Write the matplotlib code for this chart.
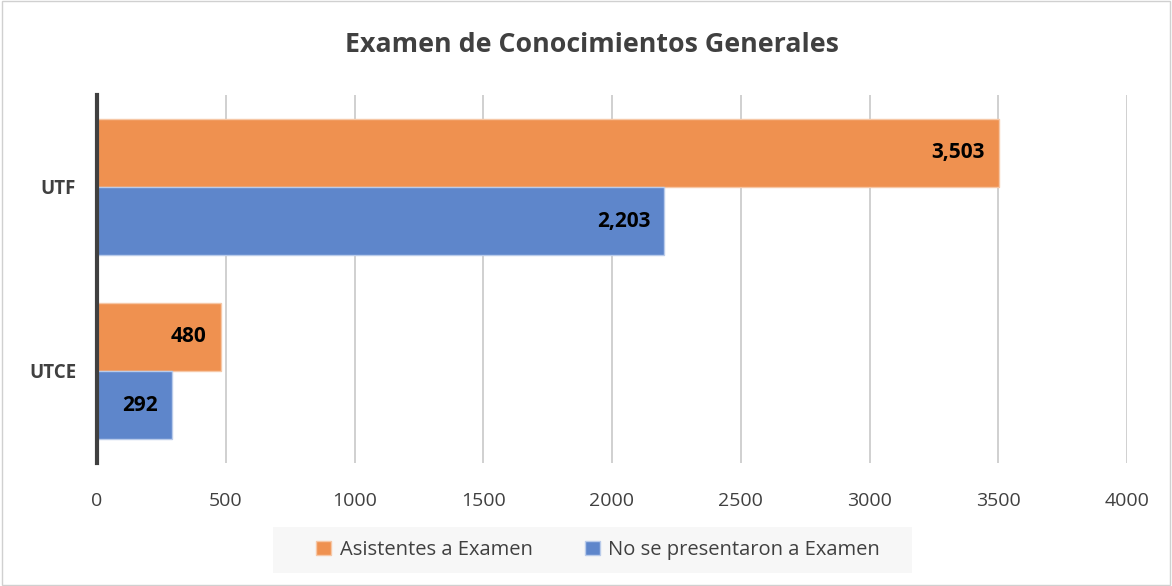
import numpy as np
import matplotlib.pyplot as plt
from matplotlib.patches import Rectangle

plt.rcParams['font.family'] = ['Open Sans', 'DejaVu Sans']

# datos
categorias = ['UTCE', 'UTF']
asistentes = [480, 3503]
no_presentaron = [292, 2203]
series = ['Asistentes a Examen', 'No se presentaron a Examen']
colores = ['#EF9150', '#5E86CB']

fig = plt.figure(figsize=(11.72, 5.86), dpi=100)
ax = fig.add_axes([97 / 1172, 1 - 463 / 586, 1030 / 1172, 368 / 586])

y = np.arange(len(categorias))
h = 0.37
b1 = ax.barh(y + h / 2, asistentes, height=h, color=colores[0],
             edgecolor='#F6C7A6', linewidth=1, label=series[0], zorder=3)
b2 = ax.barh(y - h / 2, no_presentaron, height=h, color=colores[1],
             edgecolor='#B9CBEA', linewidth=1, label=series[1], zorder=3)

for bars in (b1, b2):
    for r in bars:
        w = r.get_width()
        ax.text(w - 55, r.get_y() + r.get_height() / 2, f'{w:,.0f}',
                ha='right', va='center', fontsize=15, fontweight='bold',
                color='black', zorder=4)

ax.set_xlim(0, 4000)
ax.set_ylim(-0.5, 1.5)
ax.set_xticks(np.arange(0, 4001, 500))
ax.set_yticks(y)
ax.set_yticklabels(categorias, fontsize=13.5, fontweight='bold', color='#404040')
ax.tick_params(axis='x', labelsize=14, labelcolor='#404040', length=0, pad=21)
ax.tick_params(axis='y', length=0, pad=15)
ax.grid(axis='x', color='#C8C8C8', linewidth=1.2, zorder=0)
for s in ('top', 'right', 'bottom'):
    ax.spines[s].set_visible(False)
ax.spines['left'].set_color('#404040')
ax.spines['left'].set_linewidth(3)
ax.spines['left'].set_zorder(5)

fig.text(592 / 1172, 1 - 45 / 586, 'Examen de Conocimientos Generales',
         ha='center', va='center', fontsize=19.3, fontweight='bold', color='#404040')

# fondo de la leyenda
fig.patches.append(Rectangle((273 / 1172, 1 - 573 / 586), 639 / 1172, 46 / 586,
                             transform=fig.transFigure, facecolor='#F7F7F7',
                             edgecolor='none', zorder=0))
leg = fig.legend(handles=[b1, b2], labels=series, loc='center',
                 bbox_to_anchor=(598 / 1172, 1 - 550 / 586), ncol=2, frameon=False,
                 fontsize=14.5, handlelength=0.75, handleheight=0.75,
                 handletextpad=0.4, columnspacing=2.6)
for t in leg.get_texts():
    t.set_color('#404040')

# borde exterior
fig.patches.append(Rectangle((0.002, 0.002), 0.996, 0.996, transform=fig.transFigure,
                             facecolor='none', edgecolor='#D0D0D0', linewidth=1))

fig.savefig('out.png', dpi=100)
